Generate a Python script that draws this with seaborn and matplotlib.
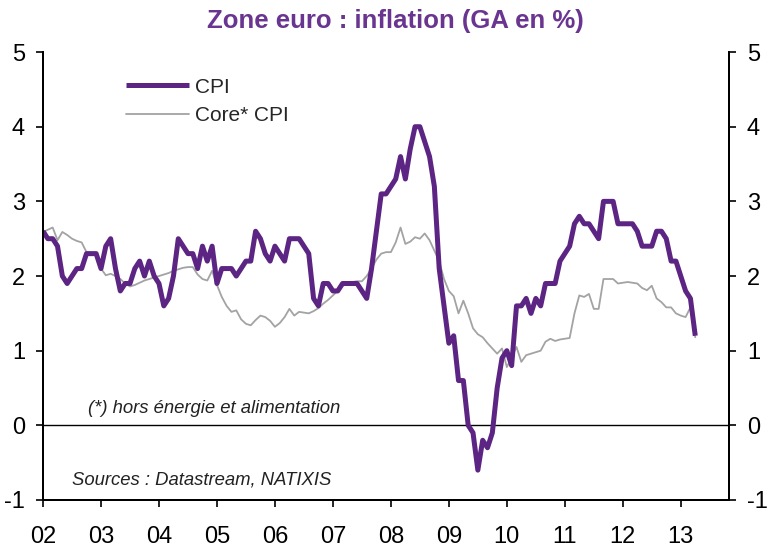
import numpy as np
import pandas as pd
import matplotlib
matplotlib.use("Agg")
import matplotlib.pyplot as plt
import seaborn as sns

# Monthly year-on-year rates, Jan 2002 -> Apr 2013
start_year = 2002
cpi = [
    2.6, 2.5, 2.5, 2.4, 2.0, 1.9, 2.0, 2.1, 2.1, 2.3, 2.3, 2.3,
    2.1, 2.4, 2.5, 2.1, 1.8, 1.9, 1.9, 2.1, 2.2, 2.0, 2.2, 2.0,
    1.9, 1.6, 1.7, 2.0, 2.5, 2.4, 2.3, 2.3, 2.1, 2.4, 2.2, 2.4,
    1.9, 2.1, 2.1, 2.1, 2.0, 2.1, 2.2, 2.2, 2.6, 2.5, 2.3, 2.2,
    2.4, 2.3, 2.2, 2.5, 2.5, 2.5, 2.4, 2.3, 1.7, 1.6, 1.9, 1.9,
    1.8, 1.8, 1.9, 1.9, 1.9, 1.9, 1.8, 1.7, 2.1, 2.6, 3.1, 3.1,
    3.2, 3.3, 3.6, 3.3, 3.7, 4.0, 4.0, 3.8, 3.6, 3.2, 2.1, 1.6,
    1.1, 1.2, 0.6, 0.6, 0.0, -0.1, -0.6, -0.2, -0.3, -0.1, 0.5, 0.9,
    1.0, 0.8, 1.6, 1.6, 1.7, 1.5, 1.7, 1.6, 1.9, 1.9, 1.9, 2.2,
    2.3, 2.4, 2.7, 2.8, 2.7, 2.7, 2.6, 2.5, 3.0, 3.0, 3.0, 2.7,
    2.7, 2.7, 2.7, 2.6, 2.4, 2.4, 2.4, 2.6, 2.6, 2.5, 2.2, 2.2,
    2.0, 1.8, 1.7, 1.2,
]
core_cpi = [
    2.59, 2.62, 2.65, 2.48, 2.59, 2.55, 2.50, 2.47, 2.45, 2.32, 2.31, 2.30,
    2.10, 2.01, 2.03, 2.00, 1.96, 1.90, 1.86, 1.88, 1.91, 1.94, 1.96, 1.98,
    2.00, 2.02, 2.04, 2.07, 2.09, 2.11, 2.12, 2.12, 2.02, 1.96, 1.94, 2.07,
    1.88, 1.72, 1.60, 1.52, 1.54, 1.42, 1.36, 1.34, 1.41, 1.47, 1.45, 1.40,
    1.32, 1.37, 1.45, 1.56, 1.47, 1.52, 1.51, 1.50, 1.53, 1.57, 1.63, 1.68,
    1.74, 1.80, 1.87, 1.90, 1.92, 1.93, 1.93, 2.00, 2.10, 2.22, 2.30, 2.32,
    2.32, 2.45, 2.65, 2.43, 2.46, 2.52, 2.50, 2.57, 2.48, 2.34, 2.20, 1.96,
    1.80, 1.73, 1.50, 1.67, 1.50, 1.30, 1.22, 1.18, 1.10, 1.03, 0.96, 1.03,
    0.78, 0.91, 1.05, 0.85, 0.94, 0.96, 0.98, 1.00, 1.12, 1.16, 1.13, 1.15,
    1.16, 1.17, 1.50, 1.74, 1.72, 1.76, 1.56, 1.56, 1.96, 1.96, 1.96, 1.90,
    1.91, 1.92, 1.91, 1.90, 1.84, 1.81, 1.87, 1.70, 1.65, 1.58, 1.58, 1.50,
    1.47, 1.45, 1.58, 1.18,
]
tick_years = list(range(2002, 2014))
tick_labels = ["02", "03", "04", "05", "06", "07", "08", "09", "10", "11", "12", "13"]
y_ticks = [-1, 0, 1, 2, 3, 4, 5]

df = pd.DataFrame({
    "date": start_year + np.arange(len(cpi)) / 12,
    "CPI": cpi,
    "Core* CPI": core_cpi,
})

sns.set_theme(style="white")
plt.rcParams["font.family"] = ["Liberation Sans", "DejaVu Sans"]
plt.rcParams["axes.unicode_minus"] = False

purple = "#5c2483"
grey = "#a3a3a3"

fig = plt.figure(figsize=(7.75, 5.48), dpi=100)
ax = fig.add_axes([0.0555, 0.0876, 0.885, 0.8174])

sns.lineplot(data=df, x="date", y="CPI", ax=ax, color=purple, linewidth=3.6,
             label="CPI", zorder=3, solid_joinstyle="round", solid_capstyle="butt")
sns.lineplot(data=df, x="date", y="Core* CPI", ax=ax, color=grey, linewidth=1.3,
             label="Core* CPI", zorder=2, solid_joinstyle="round")
ax.axhline(0, color="black", linewidth=1.0, zorder=1)

ax.set_xlim(2002, 2013.83)
ax.set_ylim(-1, 5)
ax.set_xticks(tick_years)
ax.set_xticklabels(tick_labels)
ax.set_yticks(y_ticks)
ax.set_xlabel("")
ax.set_ylabel("")

ax2 = ax.twinx()
ax2.set_ylim(-1, 5)
ax2.set_yticks(y_ticks)

for a in (ax, ax2):
    for side in ("left", "right", "bottom"):
        a.spines[side].set_color("black")
        a.spines[side].set_linewidth(1.4)
    a.spines["top"].set_visible(False)
    a.tick_params(axis="both", direction="out", length=5, width=1.2,
                  labelsize=17, colors="black", pad=3)
ax.tick_params(axis="x", pad=14, labelsize=17)
ax.tick_params(axis="y", left=True, right=False, pad=8)
ax2.tick_params(axis="y", right=True, left=False, pad=8)
ax.tick_params(axis="x", bottom=True)

leg = ax.legend(loc="upper left", bbox_to_anchor=(0.094, 0.985), frameon=False,
                handlelength=3.0, handletextpad=0.3, labelspacing=0.45,
                prop={"size": 15})

ax.text(0.066, 0.205, "(*) hors énergie et alimentation", transform=ax.transAxes,
        fontsize=13.3, style="italic", va="center", color="#222222")
ax.text(0.042, 0.044, "Sources : Datastream, NATIXIS", transform=ax.transAxes,
        fontsize=13.3, style="italic", va="center", color="#222222")

fig.text(0.51, 0.962, "Zone euro : inflation (GA en %)", ha="center", va="center",
         fontsize=18.5, fontweight="bold", color="#6a3590")

fig.savefig("out.png", dpi=100)
